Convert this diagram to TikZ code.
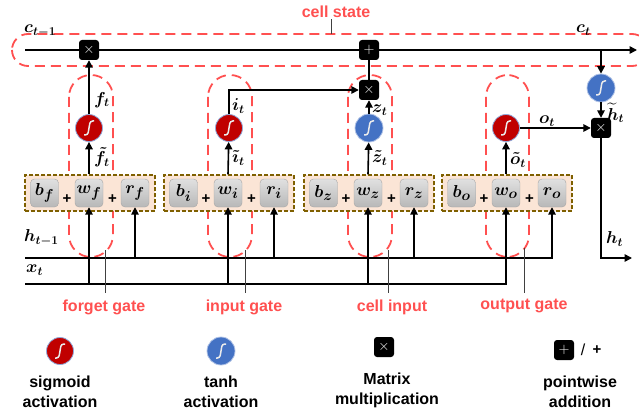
\documentclass[tikz,border=0pt]{standalone}
\usepackage[no-math]{fontspec}
\setmainfont{Liberation Sans}
\usepackage{amsmath,bm}
\usetikzlibrary{arrows.meta,calc}
\definecolor{cred}{HTML}{FF5050}
\definecolor{sigred}{HTML}{C00000}
\definecolor{tanhblue}{HTML}{4472C4}
\definecolor{ringblue}{HTML}{8FAADC}
\definecolor{peach}{HTML}{FBE5D6}
\definecolor{gbrown}{HTML}{7F6000}
\tikzset{
 arr/.style={line width=1.6pt, -{Triangle[length=7.5pt,width=7.5pt]}},
 ln/.style={line width=1.6pt},
 capsule/.style={draw=cred, line width=1.8pt, dash pattern=on 10pt off 6pt},
 gbox/.style={draw=gbrown, fill=peach, line width=1.2pt, dash pattern=on 4pt off 2pt, minimum width=130pt, minimum height=36pt, inner sep=0pt},
 wbox/.style={draw=black!35, rounded corners=4pt, top color=black!12, bottom color=black!28, minimum size=28pt, inner sep=0pt, font=\fontsize{19}{21}\selectfont},
 mbox/.style={fill=black, rounded corners=3pt, minimum size=20pt, inner sep=0pt, text=white, font=\fontsize{14}{14}\selectfont},
 sig/.style={circle, fill=sigred, draw=ringblue, line width=0.8pt, minimum size=27pt, inner sep=0pt},
 tanhc/.style={circle, fill=tanhblue, draw=ringblue!70, line width=0.8pt, minimum size=28pt, inner sep=0pt},
 ml/.style={font=\fontsize{17}{19}\selectfont, inner sep=0pt, anchor=west},
 lbl/.style={font=\fontsize{16}{20}\selectfont\bfseries, text=cred, inner sep=1pt},
 leg/.style={font=\fontsize{16}{20}\selectfont\bfseries, align=center, inner sep=0pt},
 plusl/.style={font=\fontsize{15}{15}\selectfont\bfseries, inner sep=0pt},
 pointer/.style={draw=black!75, line width=0.8pt},
 scurve/.pic={\draw[white!92!black, line width=1.5pt, rounded corners=2.5pt] (-5,7) -- (-1.2,7) -- (1.2,-7) -- (5,-7);}
}
\newcommand\gatebox[3]{%
 \node[gbox] (#1g) at ({#2+65},193) {};
 \node[wbox] (#1b) at ({#2+19.5},193) {$\bm{b_{#3}}$};
 \node[wbox] (#1w) at ({#2+64},193) {$\bm{w_{#3}}$};
 \node[wbox] (#1r) at ({#2+110},193) {$\bm{r_{#3}}$};
 \node[plusl] (#1p1) at ({#2+42},199) {+};
 \node[plusl] (#1p2) at ({#2+87.5},199) {+};
}
\begin{document}
\begin{tikzpicture}[x=1pt,y=-1pt]
\useasboundingbox (0,0) rectangle (639,414);
\clip (0,0) rectangle (639,414);
% capsules and cell state region
\draw[capsule, rounded corners=16pt] (12,34) rectangle (648,66);
\draw[capsule, rounded corners=21.9pt] (69,75) rectangle (113,257);
\draw[capsule, rounded corners=21.9pt] (208,75) rectangle (252,257);
\draw[capsule, rounded corners=21.9pt] (348,75) rectangle (392,257);
\draw[capsule, rounded corners=21.9pt] (486,75) rectangle (529,257);
% gate boxes
\gatebox{f}{25}{f}
\gatebox{i}{164}{i}
\gatebox{z}{304}{z}
\gatebox{o}{442}{o}
% activations
\node[sig] (fs) at (89,128) {}; \pic at (fs) {scurve};
\node[sig] (is) at (229,128) {}; \pic at (is) {scurve};
\node[tanhc] (zs) at (369,128) {}; \pic at (zs) {scurve};
\node[sig] (os) at (506,128) {}; \pic at (os) {scurve};
\node[tanhc] (ht) at (601,88) {}; \pic at (ht) {scurve};
% operators
\node[mbox] (fx) at (89,50) {$\times$};
\node[mbox] (cp) at (369,50) {$+$};
\node[mbox] (cx) at (369,90) {$\times$};
\node[mbox] (hx) at (601,128) {$\times$};
% cell state line
\coordinate (cs0) at (25,50);
\coordinate (cs1) at (637,50);
\draw[arr] (cs0) -- (fx) -- (cp) -- (cs1);
\coordinate (cb) at (601,50);
\draw[arr] (cb) -- (ht);
\draw[arr] (ht) -- (hx);
\coordinate (hend) at (632,258);
\draw[arr] (hx) |- (hend);
\draw[arr] (os) -- (hx);
\draw[arr] (fs) -- (fx);
\draw[arr] (is) |- (cx);
\draw[arr] (zs) -- (cx);
\draw[ln] (cx) -- (cp);
% gate outputs
\draw[arr] (fw |- fg.north) -- (fs);
\draw[arr] (iw |- ig.north) -- (is);
\draw[arr] (zw |- zg.north) -- (zs);
\draw[arr] (ow |- og.north) -- (os);
% inputs
\coordinate (h0) at (25,258);
\coordinate (x0) at (25,284);
\draw[arr] (h0) -| (or);
\draw[arr] (x0) -| (ow);
\draw[arr] (fw |- x0) -- (fw);
\draw[arr] (iw |- x0) -- (iw);
\draw[arr] (zw |- x0) -- (zw);
\draw[arr] (fr |- h0) -- (fr);
\draw[arr] (ir |- h0) -- (ir);
\draw[arr] (zr |- h0) -- (zr);
% math labels
\node[ml] (lct1) at (24,31) {$\bm{c_{t-1}}$};
\node[ml] (lct) at (576,30) {$\bm{c_t}$};
\node[ml] (lft) at (94,100) {$\bm{f_t}$};
\node[ml] (lftt) at (94,157) {$\bm{\tilde f_t}$};
\node[ml] (lit) at (232,106) {$\bm{i_t}$};
\node[ml] (litt) at (232,158) {$\bm{\tilde\imath_t}$};
\node[ml] (lzt) at (372,110) {$\bm{z_t}$};
\node[ml] (lztt) at (372,158) {$\bm{\tilde z_t}$};
\node[ml] (lot) at (539,121) {$\bm{o_t}$};
\node[ml] (lott) at (510,160) {$\bm{\tilde o_t}$};
\node[ml] (lhtt) at (607,113) {$\bm{\widetilde h_t}$};
\node[ml] (lhp) at (24,238) {$\bm{h_{t-1}}$};
\node[ml] (lxt) at (26,270) {$\bm{x_t}$};
\node[ml] (lht) at (606,239) {$\bm{h_t}$};
% red labels and pointers
\node[lbl] (lcs) at (336,12) {cell state};
\node[lbl] (lf) at (104,307) {forget gate};
\node[lbl] (li) at (244,307) {input gate};
\node[lbl] (lz) at (392,307) {cell input};
\node[lbl] (lo) at (524,306) {output gate};
\coordinate (tk) at (331,34);
\draw[pointer] (tk |- lcs.south) -- (tk);
\coordinate (pf) at (105,250);
\coordinate (pi) at (245,250);
\coordinate (pz) at (388,250);
\coordinate (po) at (524,248);
\draw[pointer, shorten >=5pt] (pf) -- (pf |- lf.north);
\draw[pointer, shorten >=5pt] (pi) -- (pi |- li.north);
\draw[pointer, shorten >=5pt] (pz) -- (pz |- lz.north);
\draw[pointer, shorten >=5pt] (po) -- (po |- lo.north);
% legend
\node[sig] (lsig) at (60,351) {}; \pic at (lsig) {scurve};
\node[tanhc] (ltanh) at (221,351) {}; \pic at (ltanh) {scurve};
\node[mbox] (lmx) at (384,347) {$\times$};
\node[mbox] (lpl) at (564,350) {$+$};
\node[font=\fontsize{16}{16}\selectfont, inner sep=0pt] (lsl) at (583,350) {/};
\node[plusl] (lpb) at (597,350) {+};
\node[leg] (tsig) at (60,392) {sigmoid\\activation};
\node[leg] (ttanh) at (221,392) {tanh\\activation};
\node[leg] (tmx) at (387,390) {Matrix\\multiplication};
\node[leg] (tpl) at (580,392) {pointwise\\addition};
\end{tikzpicture}
\end{document}
